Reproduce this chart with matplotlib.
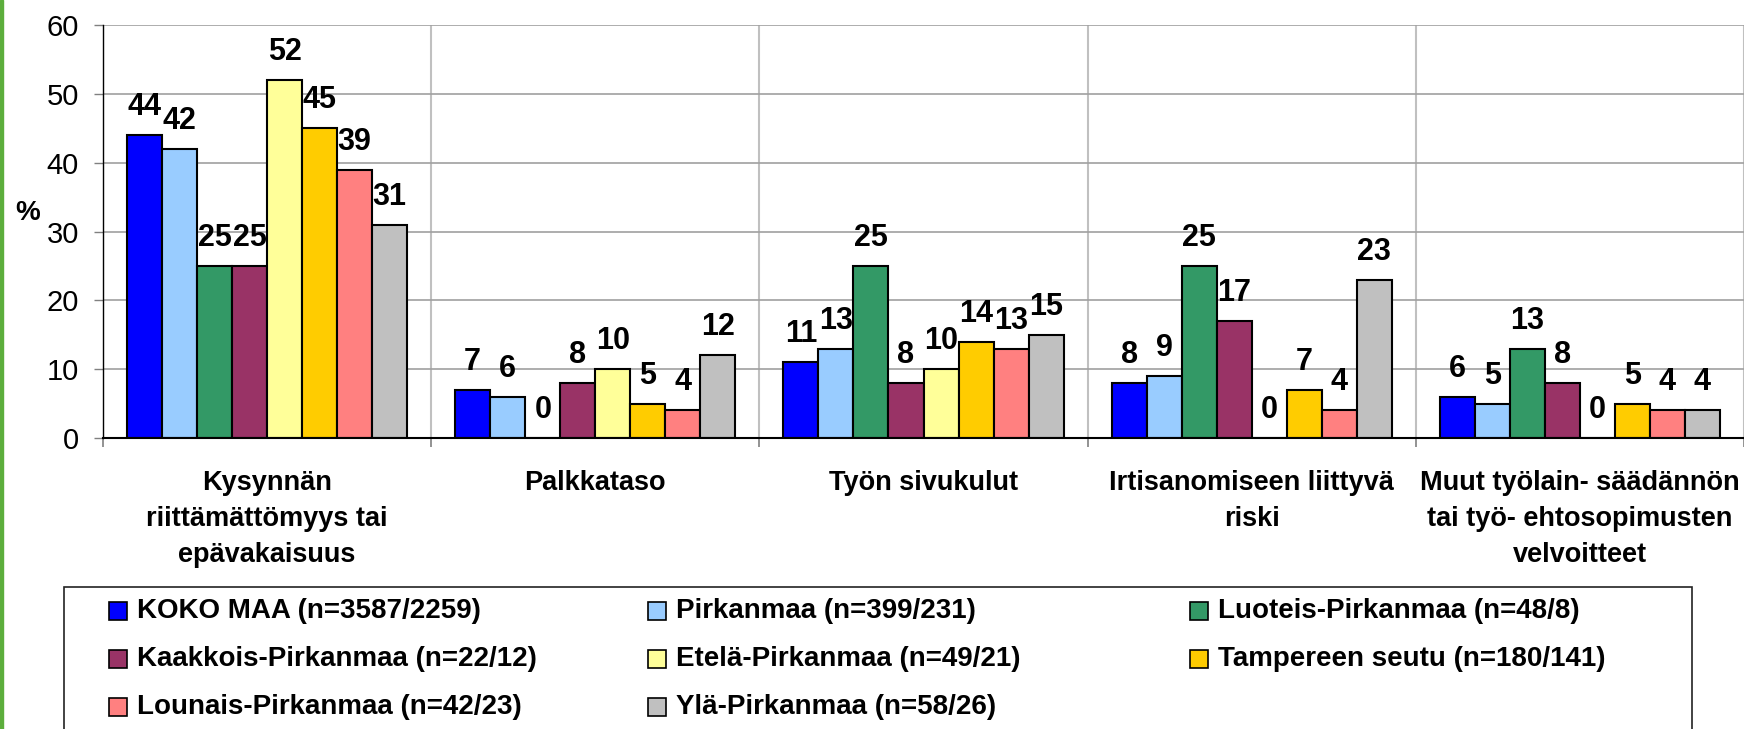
import matplotlib
matplotlib.use("Agg")
import matplotlib.pyplot as plt
from matplotlib.patches import Rectangle

plt.rcParams["font.family"] = ["Liberation Sans", "DejaVu Sans"]

categories = [
    "Kysynnän\nriittämättömyys tai\nepävakaisuus",
    "Palkkataso",
    "Työn sivukulut",
    "Irtisanomiseen liittyvä\nriski",
    "Muut työlain- säädännön\ntai työ- ehtosopimusten\nvelvoitteet",
]

series_names = [
    "KOKO MAA (n=3587/2259)",
    "Pirkanmaa (n=399/231)",
    "Luoteis-Pirkanmaa (n=48/8)",
    "Kaakkois-Pirkanmaa (n=22/12)",
    "Etelä-Pirkanmaa (n=49/21)",
    "Tampereen seutu (n=180/141)",
    "Lounais-Pirkanmaa (n=42/23)",
    "Ylä-Pirkanmaa (n=58/26)",
]

koko_maa = [44, 7, 11, 8, 6]
pirkanmaa = [42, 6, 13, 9, 5]
luoteis = [25, 0, 25, 25, 13]
kaakkois = [25, 8, 8, 17, 8]
etela = [52, 10, 10, 0, 0]
tampere = [45, 5, 14, 7, 5]
lounais = [39, 4, 13, 4, 4]
yla = [31, 12, 15, 23, 4]

series_values = [koko_maa, pirkanmaa, luoteis, kaakkois, etela, tampere, lounais, yla]
colors = ["#0000FF", "#99CCFF", "#339966", "#993366",
          "#FFFF99", "#FFCC00", "#FF8080", "#C0C0C0"]

W, H = 1744, 729
fig = plt.figure(figsize=(W / 100, H / 100), dpi=100)
ax = fig.add_axes([103 / W, 1 - 438 / H, 1 - 103 / W, (438 - 25) / H])

# green strip at the left edge
fig.add_artist(Rectangle((0, 0), 3 / W, 1, transform=fig.transFigure,
                         color="#5cae3c", zorder=10))

BAR_W = 0.1067
for i, (vals, col) in enumerate(zip(series_values, colors)):
    xs = [c + 0.5 + (i - 3.5) * BAR_W for c in range(len(categories))]
    ax.bar(xs, vals, BAR_W, color=col, edgecolor="black", linewidth=1.5, zorder=3)
    for x, v in zip(xs, vals):
        ax.annotate(str(v), (x, v), xytext=(0, 14.4), textcoords="offset points",
                    ha="center", va="baseline", fontsize=22, fontweight="bold",
                    zorder=4)

ax.set_xlim(0, 5)
ax.set_ylim(0, 60)

ax.set_xticks(range(6))
ax.set_xticklabels([])
ax.set_xticks([c + 0.5 for c in range(5)], minor=True)
ax.set_xticklabels(categories, minor=True, fontsize=19.5, fontweight="bold",
                   linespacing=1.5)
ax.tick_params(axis="x", which="major", length=6.5, width=1.2, color="#808080")
ax.tick_params(axis="x", which="minor", length=0, pad=23)

ax.set_yticks(range(0, 61, 10))
ax.tick_params(axis="y", length=6.5, width=1, color="#808080", pad=10.8,
               labelsize=21)

ax.xaxis.grid(True, which="major", color="#c0c0c0", linewidth=1.5, zorder=0)
ax.yaxis.grid(True, color="#a0a0a0", linewidth=1.2, zorder=0)
ax.set_axisbelow(True)

for s in ("top", "right"):
    ax.spines[s].set_visible(False)
ax.spines["left"].set_color("black")
ax.spines["left"].set_linewidth(1.0)
ax.spines["bottom"].set_color("black")
ax.spines["bottom"].set_linewidth(1.5)
ax.spines["bottom"].set_zorder(5)

fig.text(15 / W, 1 - 213 / H, "%", fontsize=20, fontweight="bold",
         ha="left", va="center")

# legend box
fig.add_artist(Rectangle((64 / W, -0.05), (1692 - 64) / W, 0.05 + 1 - 587 / H,
                         transform=fig.transFigure, fill=False,
                         edgecolor="#222222", linewidth=1.2))
sq_x = [109, 648, 1190]
row_y = [611, 659, 707]
for i, name in enumerate(series_names):
    r, c = divmod(i, 3)
    fig.add_artist(Rectangle((sq_x[c] / W, 1 - (row_y[r] + 9) / H), 18 / W, 18 / H,
                             transform=fig.transFigure, facecolor=colors[i],
                             edgecolor="black", linewidth=1.2))
    fig.text((sq_x[c] + 28) / W, 1 - row_y[r] / H, name, fontsize=20,
             fontweight="bold", ha="left", va="center")

fig.savefig("out.png", dpi=100)
